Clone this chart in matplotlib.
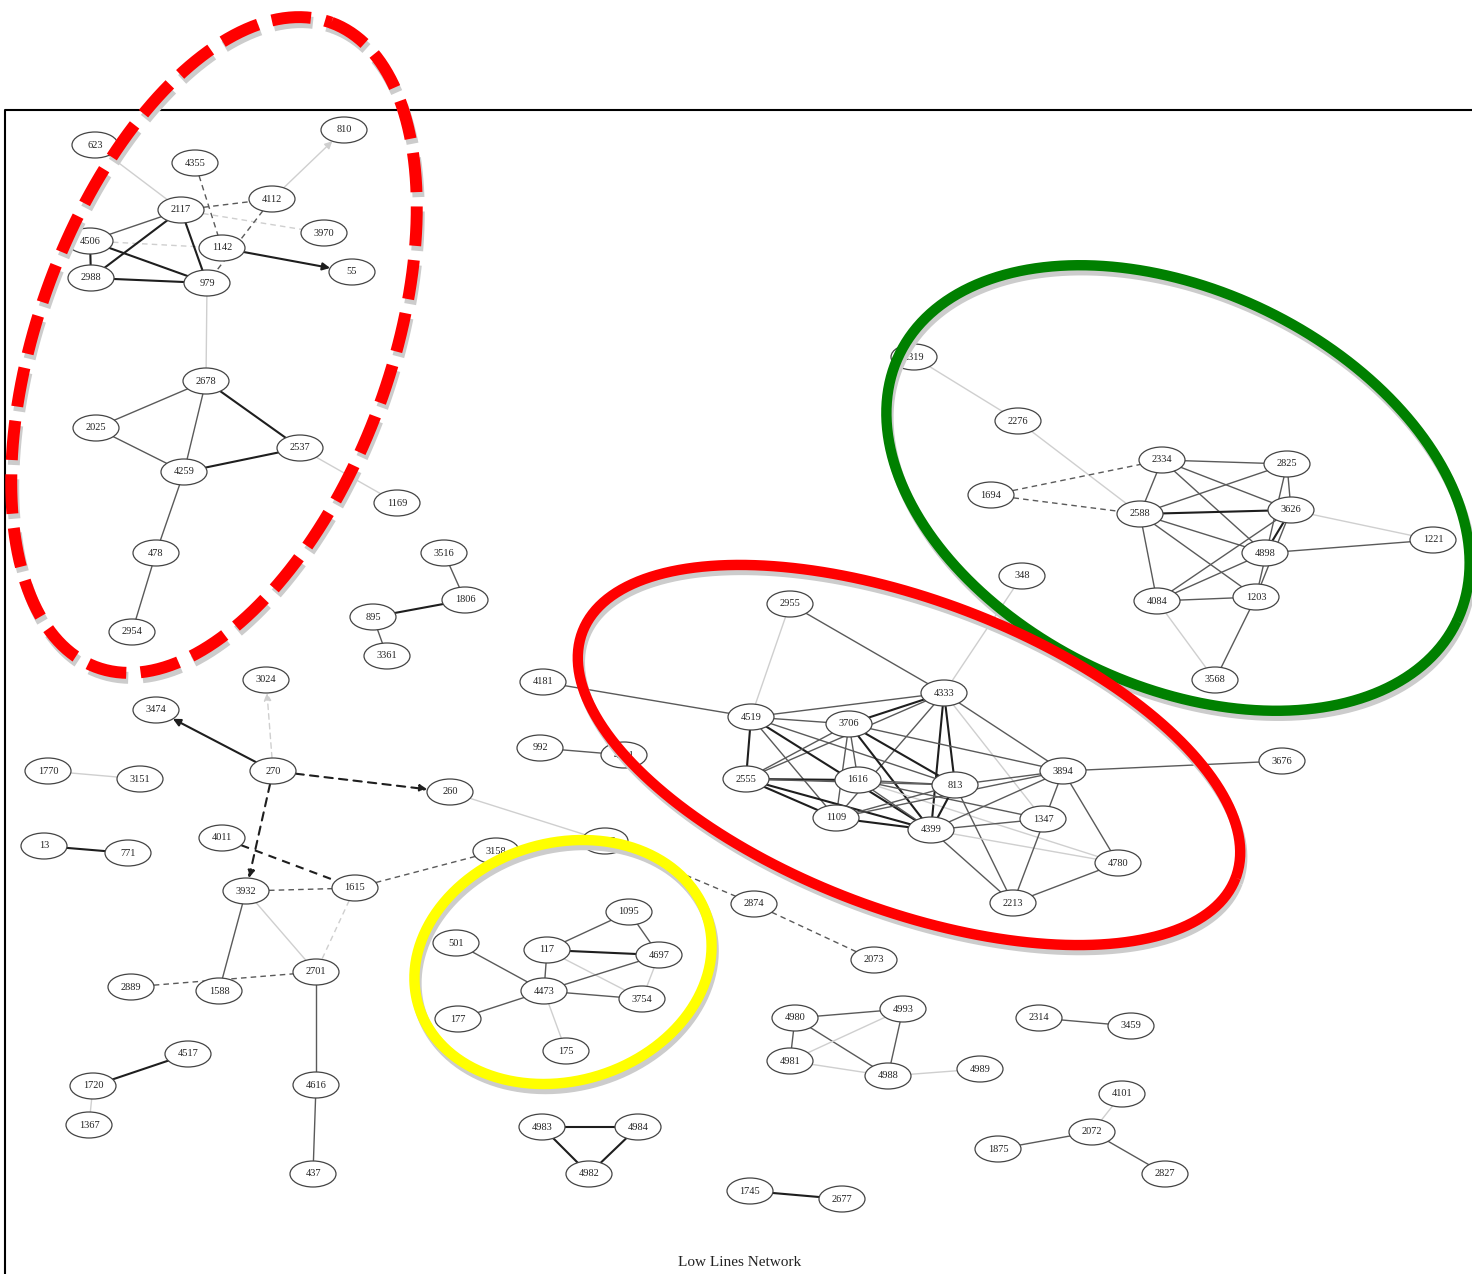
import numpy as np
import matplotlib
matplotlib.use("Agg")
import matplotlib.pyplot as plt
from matplotlib.patches import Ellipse, FancyArrowPatch

# ── Nodes (label, x, y in page pixels) ───────────────────────────────────────
node_ids = ["623", "4355", "810", "2117", "4112", "3970", "4506", "1142", "55",
            "2988", "979", "2678", "2025", "2537", "4259", "1169", "478", "2954",
            "3516", "1806", "895", "3361", "3024", "3474", "270", "1770", "3151",
            "260", "4011", "13", "771", "3158", "1615", "3932", "2701", "2889",
            "1588", "501", "117", "1095", "4697", "4473", "3754", "177", "175",
            "4517", "1720", "1367", "4616", "437", "4983", "4984", "4982", "1745",
            "2677", "4980", "4993", "4981", "4988", "4989", "2314", "3459", "4101",
            "2072", "1875", "2827", "2874", "2073", "4457", "4521", "992", "4181",
            "2955", "4333", "4519", "3706", "2555", "1616", "813", "1109", "4399",
            "3894", "1347", "4780", "2213", "3676", "348", "2319", "2276", "2334",
            "2825", "1694", "2588", "3626", "4898", "1221", "4084", "1203", "3568"]
node_x = [95, 195, 344, 181, 272, 324, 90, 222, 352,
          91, 207, 206, 96, 300, 184, 397, 156, 132,
          444, 465, 373, 387, 266, 156, 273, 48, 140,
          450, 222, 44, 128, 496, 355, 246, 316, 131,
          219, 456, 547, 629, 659, 544, 642, 458, 566,
          188, 93, 89, 316, 313, 542, 638, 589, 750,
          842, 795, 903, 790, 888, 980, 1039, 1131, 1122,
          1092, 998, 1165, 754, 874, 605, 624, 540, 543,
          790, 944, 751, 849, 746, 858, 955, 836, 931,
          1063, 1043, 1118, 1013, 1282, 1022, 914, 1018, 1162,
          1287, 991, 1140, 1291, 1265, 1433, 1157, 1256, 1215]
node_y = [145, 163, 130, 210, 199, 233, 241, 248, 272,
          278, 283, 381, 428, 448, 472, 503, 553, 632,
          553, 600, 617, 656, 680, 710, 771, 771, 779,
          792, 838, 846, 853, 851, 888, 891, 972, 987,
          991, 943, 950, 912, 955, 991, 999, 1019, 1051,
          1054, 1086, 1125, 1085, 1174, 1127, 1127, 1174, 1191,
          1199, 1018, 1009, 1061, 1076, 1069, 1018, 1026, 1094,
          1132, 1149, 1174, 904, 960, 841, 755, 748, 682,
          604, 693, 717, 724, 779, 780, 785, 818, 830,
          771, 819, 863, 903, 761, 576, 357, 421, 460,
          464, 495, 514, 510, 553, 540, 601, 597, 680]

# ── Edges: source, target, shade (d=dark, m=medium, l=light), dashed, arrow ──
edge_src = ["623", "4355", "2117", "2117", "4112", "4112", "4506", "1142",
            "4506", "2988", "2117", "4506", "4506", "2988", "979", "2678",
            "2678", "2678", "2025", "4259", "2537", "4259", "478",
            "3516", "1806", "895", "270", "270", "270", "270", "4011",
            "1770", "13", "3932", "1615", "260", "4457", "2874", "3932", "3932",
            "1615", "2889", "2701", "4616", "4517", "1720",
            "501", "117", "117", "117", "117", "1095", "4697", "4697", "4473",
            "177", "4473", "4983", "4983", "4984", "1745",
            "4980", "4980", "4980", "4981", "4981", "4993", "4988",
            "2314", "4101", "2072", "2072", "992",
            "4181", "2955", "2955", "348",
            "4333", "4333", "4333", "4333", "4333", "4333", "4333", "4333",
            "4519", "4519", "4519", "4519", "4519",
            "3706", "3706", "3706", "3706", "3706", "3706",
            "2555", "2555", "2555", "2555", "1616", "1616", "1616", "1616",
            "1109", "1109", "1109", "813", "813", "813",
            "4399", "4399", "4399", "4399", "3894", "3894", "3894", "4780",
            "2319", "2276", "1694", "1694", "2334", "2334", "2334", "2334",
            "2588", "2588", "2588", "2588", "2588", "2825", "2825",
            "3626", "3626", "3626", "3626", "4898", "4898", "4084", "4084", "1203"]
edge_dst = ["2117", "1142", "4112", "3970", "810", "979", "1142", "55",
            "2117", "2117", "979", "979", "2988", "979", "2678", "2025",
            "4259", "2537", "4259", "2537", "1169", "478", "2954",
            "1806", "895", "3361", "3024", "3474", "260", "3932", "1615",
            "3151", "771", "1615", "3158", "4457", "2874", "2073", "1588", "2701",
            "2701", "2701", "4616", "437", "1720", "1367",
            "4473", "1095", "4697", "4473", "3754", "4697", "4473", "3754", "3754",
            "4473", "175", "4984", "4982", "4982", "2677",
            "4993", "4981", "4988", "4993", "4988", "4988", "4989",
            "3459", "2072", "1875", "2827", "4521",
            "4519", "4519", "4333", "4333",
            "4519", "3706", "2555", "1109", "813", "4399", "3894", "1347",
            "3706", "2555", "1109", "4399", "813",
            "2555", "1616", "1109", "4399", "813", "3894",
            "1616", "1109", "4399", "813", "813", "4399", "1347", "4780",
            "813", "4399", "3894", "4399", "3894", "2213",
            "3894", "1347", "2213", "4780", "2213", "4780", "3676", "2213",
            "2276", "2588", "2334", "2588", "2825", "2588", "3626", "4898",
            "2825", "3626", "4898", "1203", "4084", "3626", "1203",
            "4898", "4084", "1203", "1221", "1221", "4084", "1203", "3568", "3568"]
edge_shade = ["l", "m", "m", "l", "l", "m", "l", "d",
              "m", "d", "d", "d", "d", "d", "l", "m",
              "m", "d", "m", "d", "l", "m", "m",
              "m", "d", "m", "l", "d", "d", "d", "d",
              "l", "d", "m", "m", "l", "m", "m", "m", "l",
              "l", "m", "m", "m", "d", "l",
              "m", "m", "d", "m", "l", "m", "m", "l", "m",
              "m", "l", "d", "d", "d", "d",
              "m", "m", "m", "l", "l", "m", "l",
              "m", "l", "m", "m", "m",
              "m", "l", "m", "l",
              "m", "d", "m", "m", "d", "d", "m", "l",
              "m", "d", "m", "d", "m",
              "m", "m", "m", "d", "d", "m",
              "d", "d", "d", "m", "m", "m", "m", "l",
              "m", "d", "m", "d", "m", "m",
              "m", "m", "m", "l", "m", "m", "m", "m",
              "l", "l", "m", "m", "m", "m", "m", "m",
              "m", "d", "m", "m", "m", "m", "m",
              "d", "m", "m", "l", "m", "m", "m", "l", "m"]
dashed_edges = {("4355", "1142"), ("2117", "4112"), ("2117", "3970"), ("4112", "979"),
                ("4506", "1142"), ("270", "3024"), ("270", "260"), ("270", "3932"),
                ("4011", "1615"), ("3932", "1615"), ("1615", "3158"), ("4457", "2874"),
                ("2874", "2073"), ("1615", "2701"), ("2889", "2701"),
                ("1694", "2334"), ("1694", "2588")}
arrow_edges = {("4112", "810"), ("1142", "55"), ("270", "3024"), ("270", "3474"),
               ("270", "260"), ("270", "3932")}

# ── Highlight rings: centre x, centre y, semi-major, semi-minor, angle(deg) ──
ring_cx = [214, 1178, 909, 563]
ring_cy = [345, 488, 755, 962]
ring_a = [343, 309, 349, 151]
ring_b = [176, 198, 155, 119]
ring_ang = [-70, 25.5, 20.6, -16.8]
ring_col = ["#ff0000", "#008000", "#ff0000", "#ffff00"]
ring_dash = [True, False, False, False]

TITLE = "Low Lines Network"
W, H = 1472, 1274
RX, RY = 23, 13

SHADE = {"d": ("#1e1e1e", 1.5), "m": ("#5a5a5a", 1.0), "l": ("#cfcfcf", 1.0)}

pos = {n: (x, y) for n, x, y in zip(node_ids, node_x, node_y)}

fig = plt.figure(figsize=(W / 100, H / 100), dpi=100)
ax = fig.add_axes([0, 0, 1, 1])
ax.set_xlim(0, W)
ax.set_ylim(H, 0)
ax.axis("off")

# frame
ax.plot([5, 5, W], [H, 110, 110], color="black", lw=1.5, zorder=1)


def trim(p, q):
    dx, dy = q[0] - p[0], q[1] - p[1]
    t = 1.0 / np.sqrt((dx / RX) ** 2 + (dy / RY) ** 2)
    return (p[0] + dx * t, p[1] + dy * t), (q[0] - dx * t, q[1] - dy * t)


for s, d, sh in zip(edge_src, edge_dst, edge_shade):
    col, lw = SHADE[sh]
    ls = (0, (4, 3)) if (s, d) in dashed_edges else "-"
    a, b = trim(pos[s], pos[d])
    if (s, d) in arrow_edges:
        arr = FancyArrowPatch(a, b, arrowstyle="-|>", mutation_scale=11,
                              color=col, lw=lw, linestyle=ls, zorder=2,
                              shrinkA=0, shrinkB=0)
        ax.add_patch(arr)
    else:
        ax.plot([a[0], b[0]], [a[1], b[1]], color=col, lw=lw, ls=ls, zorder=2)

for n in node_ids:
    x, y = pos[n]
    ax.add_patch(Ellipse((x, y), 2 * RX, 2 * RY, facecolor="white",
                         edgecolor="#444444", lw=0.9, zorder=3))
    ax.text(x, y, n, ha="center", va="center", fontsize=7.5,
            family="Liberation Serif", color="#222222", zorder=4)

# highlight rings with soft grey shadow
t = np.linspace(0, 2 * np.pi, 400)
for cx, cy, ra, rb, ang, col, dash in zip(ring_cx, ring_cy, ring_a, ring_b,
                                           ring_ang, ring_col, ring_dash):
    phi = np.radians(ang)
    ex = cx + ra * np.cos(t) * np.cos(phi) - rb * np.sin(t) * np.sin(phi)
    ey = cy + ra * np.cos(t) * np.sin(phi) + rb * np.sin(t) * np.cos(phi)
    lw = 8.6 if dash else 7.5
    ls = (0, (3.3, 1.2)) if dash else "-"
    ax.plot(ex + 2, ey + 5, color="#cccccc", lw=lw, ls=ls,
            solid_capstyle="butt", dash_capstyle="butt", zorder=5)
    ax.plot(ex, ey, color=col, lw=lw, ls=ls,
            solid_capstyle="butt", dash_capstyle="butt", zorder=6)

ax.text(740, 1262, TITLE, ha="center", va="center", fontsize=11,
        family="Liberation Serif", color="#222222")

fig.savefig("out.png", dpi=100)
